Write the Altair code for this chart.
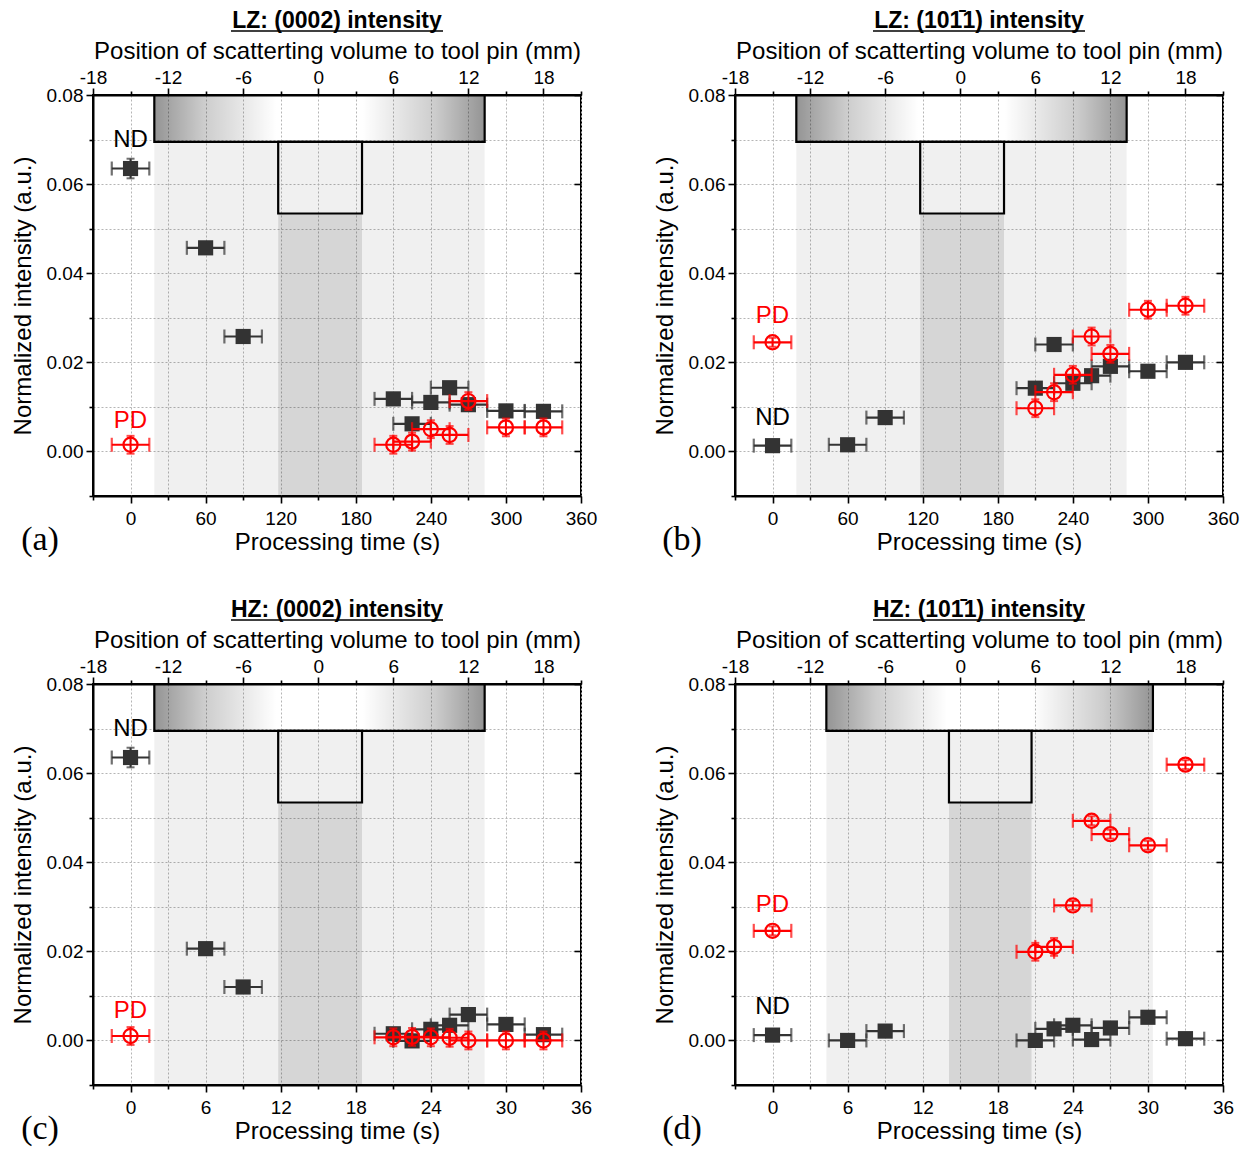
import altair as alt
import pandas as pd

W, H = 488, 401

# ---------------- texts ----------------
panel_titles = ["LZ: (0002) intensity", "LZ: (101\u03041) intensity",
                "HZ: (0002) intensity", "HZ: (101\u03041) intensity"]
panel_letters = ["(a)", "(b)", "(c)", "(d)"]
x_title = "Processing time (s)"
top_title = "Position of scatterting volume to tool pin (mm)"
y_title = "Normalized intensity (a.u.)"

# ---------------- axes ----------------
time_domains = [[-30, 360], [-30, 360], [-3, 36], [-3, 36]]
time_ticks = [list(range(-30, 361, 30)), list(range(-30, 361, 30)),
              list(range(-3, 37, 3)), list(range(-3, 37, 3))]
time_major = [60, 60, 6, 6]
mm_domain = [-18, 21]
mm_ticks = list(range(-18, 22, 3))
y_domain = [-0.01, 0.08]
y_ticks = [-0.01, 0.0, 0.01, 0.02, 0.03, 0.04, 0.05, 0.06, 0.07, 0.08]
y_major = [0.0, 0.02, 0.04, 0.06, 0.08]

# ---------------- data ----------------
nd_t_long = [0, 60, 90, 210, 225, 240, 255, 270, 300, 330]
pd_t_long = [0, 210, 225, 240, 255, 270, 300, 330]
nd_t_short = [0, 6, 9, 21, 22.5, 24, 25.5, 27, 30, 33]
pd_t_short = [0, 21, 22.5, 24, 25.5, 27, 30, 33]
x_err = [15, 15, 1.5, 1.5]

a_nd = [0.0635, 0.0457, 0.0258, 0.0118, 0.0062, 0.0110, 0.0143, 0.0105, 0.0091, 0.0090]
a_nd_err = [0.0022, 0.0008, 0.0008, 0.0008, 0.0008, 0.0008, 0.0008, 0.0008, 0.0008, 0.0008]
a_pd = [0.0015, 0.0015, 0.0022, 0.0050, 0.0037, 0.0113, 0.0054, 0.0054]
a_pd_err = [0.002, 0.002, 0.002, 0.002, 0.002, 0.002, 0.002, 0.002]

b_nd = [0.0013, 0.0015, 0.0076, 0.0142, 0.0240, 0.0153, 0.0170, 0.0191, 0.0180, 0.0200]
b_nd_err = [0.0008, 0.0008, 0.0008, 0.0008, 0.0008, 0.0008, 0.0008, 0.0008, 0.0008, 0.0008]
b_pd = [0.0245, 0.0097, 0.0133, 0.0172, 0.0258, 0.0219, 0.0318, 0.0327]
b_pd_err = [0.001, 0.002, 0.002, 0.002, 0.002, 0.002, 0.002, 0.002]

c_nd = [0.0635, 0.0206, 0.0120, 0.0015, -0.0001, 0.0025, 0.0034, 0.0058, 0.0036, 0.0013]
c_nd_err = [0.0022, 0.0008, 0.0008, 0.0008, 0.0008, 0.0008, 0.0008, 0.0008, 0.0008, 0.0008]
c_pd = [0.0010, 0.0007, 0.0008, 0.0007, 0.0006, 0.0000, 0.0000, 0.0000]
c_pd_err = [0.002, 0.002, 0.002, 0.002, 0.002, 0.002, 0.002, 0.002]

d_nd = [0.0012, 0.0000, 0.0021, 0.0000, 0.0026, 0.0034, 0.0002, 0.0028, 0.0052, 0.0004]
d_nd_err = [0.0008, 0.0008, 0.0008, 0.0008, 0.0008, 0.0008, 0.0008, 0.0008, 0.0008, 0.0008]
d_pd = [0.0246, 0.0199, 0.0210, 0.0303, 0.0493, 0.0463, 0.0438, 0.0619]
d_pd_err = [0.001, 0.002, 0.002, 0.001, 0.001, 0.001, 0.001, 0.001]

nd_values = [a_nd, b_nd, c_nd, d_nd]
nd_errors = [a_nd_err, b_nd_err, c_nd_err, d_nd_err]
pd_values = [a_pd, b_pd, c_pd, d_pd]
pd_errors = [a_pd_err, b_pd_err, c_pd_err, d_pd_err]
nd_times = [nd_t_long, nd_t_long, nd_t_short, nd_t_short]
pd_times = [pd_t_long, pd_t_long, pd_t_short, pd_t_short]

# tool outline (processing time) and heights (intensity units)
shoulder_t = [[19, 283], [19, 283], [1.9, 28.3], [4.3, 30.4]]
pin_t = [[118, 185], [118, 185], [11.8, 18.5], [14.1, 20.7]]
shoulder_y = [0.0695, 0.08]
pin_bottom_y = 0.0534

# ND / PD annotation anchors
nd_label = [[0, 0.0700], [0, 0.0074], [0, 0.0700], [0, 0.0074]]
pd_label = [[0, 0.0068], [0, 0.0303], [0, 0.0067], [0, 0.0303]]

RED = "#ff0000"
DARK = "#333333"
FONT = "Liberation Sans"

shoulder_gradient = alt.Gradient(
    gradient="linear",
    stops=[
        alt.GradientStop(color="rgba(0,0,0,0.42)", offset=0),
        alt.GradientStop(color="rgba(0,0,0,0.20)", offset=0.15),
        alt.GradientStop(color="rgba(0,0,0,0.0)", offset=0.37),
        alt.GradientStop(color="rgba(0,0,0,0.0)", offset=0.63),
        alt.GradientStop(color="rgba(0,0,0,0.20)", offset=0.85),
        alt.GradientStop(color="rgba(0,0,0,0.42)", offset=1),
    ],
    x1=0, x2=1, y1=0, y2=0,
)


def panel(i):
    major = time_major[i]
    xsc = alt.Scale(domain=time_domains[i], nice=False, zero=False)
    ysc = alt.Scale(domain=y_domain, nice=False, zero=False)
    xaxis = alt.Axis(
        orient="bottom", values=time_ticks[i], grid=True, labelFlush=False,
        labelExpr=f"datum.value % {major} == 0 ? '' + datum.value : ''",
        tickSize={"condition": {"test": f"datum.value % {major} == 0", "value": 7}, "value": 4},
        labelPadding=6, titlePadding=2,
    )
    yaxis = alt.Axis(
        orient="left", values=y_ticks, grid=True, labelFlush=False,
        labelExpr="abs(round(datum.value*100)) % 2 == 0 ? format(datum.value, '.2f') : ''",
        tickSize={"condition": {"test": "abs(round(datum.value*100)) % 2 == 0", "value": 7}, "value": 4},
        labelPadding=3, titlePadding=11,
    )

    def X(f):
        return alt.X(f, type="quantitative", scale=xsc, axis=xaxis, title=x_title)

    def Y(f):
        return alt.Y(f, type="quantitative", scale=ysc, axis=yaxis, title=y_title)

    tool = pd.DataFrame({
        "s0": [shoulder_t[i][0]], "s1": [shoulder_t[i][1]],
        "p0": [pin_t[i][0]], "p1": [pin_t[i][1]],
        "ybot": [y_domain[0]], "ysh": [shoulder_y[0]], "ytop": [shoulder_y[1]],
        "ypin": [pin_bottom_y],
    })
    xe = x_err[i]
    nd = pd.DataFrame({"t": nd_times[i], "y": nd_values[i], "e": nd_errors[i]})
    pdd = pd.DataFrame({"t": pd_times[i], "y": pd_values[i], "e": pd_errors[i]})
    for df in (nd, pdd):
        df["lo"] = df["t"] - xe
        df["hi"] = df["t"] + xe
        df["ylo"] = df["y"] - df["e"]
        df["yhi"] = df["y"] + df["e"]

    light = alt.Chart(tool).mark_rect(fill="black", fillOpacity=0.06).encode(
        x=X("s0"), x2="s1", y=Y("ybot"), y2="ysh")
    dark = alt.Chart(tool).mark_rect(fill="black", fillOpacity=0.105).encode(
        x=X("p0"), x2="p1", y=Y("ybot"), y2="ypin")
    shoulder = alt.Chart(tool).mark_rect(fill=shoulder_gradient, stroke="black", strokeWidth=2.2).encode(
        x=X("s0"), x2="s1", y=Y("ysh"), y2="ytop")
    pin = alt.Chart(tool).mark_rect(fill="white", fillOpacity=0, stroke="black", strokeWidth=2.2).encode(
        x=X("p0"), x2="p1", y=Y("ypin"), y2="ysh")

    def hbar(df, color):
        return alt.Chart(df).mark_errorbar(ticks=True, size=14, thickness=2.2, color=color).encode(
            x=X("lo"), x2="hi", y=Y("y"))

    def vbar(df, color):
        return alt.Chart(df).mark_errorbar(ticks=True, size=8, thickness=2, color=color).encode(
            x=X("t"), y=Y("ylo"), y2="yhi")

    nd_pts = alt.Chart(nd).mark_point(shape="square", filled=True, size=230, color=DARK, opacity=1).encode(
        x=X("t"), y=Y("y"))
    pd_pts = alt.Chart(pdd).mark_point(shape="circle", filled=False, size=200, color=RED,
                                        strokeWidth=2.2, opacity=1).encode(x=X("t"), y=Y("y"))

    lab = pd.DataFrame({"t": [nd_label[i][0], pd_label[i][0]], "y": [nd_label[i][1], pd_label[i][1]],
                        "txt": ["ND", "PD"], "col": ["black", RED]})
    labels = alt.Chart(lab).mark_text(font=FONT, fontSize=24, baseline="middle", align="center").encode(
        x=X("t"), y=Y("y"), text="txt:N", color=alt.Color("col:N", scale=None))

    one = pd.DataFrame({"k": [0]})
    title = alt.Chart(one).mark_text(text=panel_titles[i], font=FONT, fontSize=23, fontWeight="bold",
                                     align="center", baseline="alphabetic", color="black").encode(
        x=alt.value(W / 2), y=alt.value(-67))
    underline = alt.Chart(one).mark_rule(color="black", strokeWidth=1.6).encode(
        x=alt.value(W / 2 - 106), x2=alt.value(W / 2 + 106), y=alt.value(-64))
    letter = alt.Chart(one).mark_text(text=panel_letters[i], font="Liberation Serif", fontSize=34,
                                      align="center", baseline="middle", color="black").encode(
        x=alt.value(-53), y=alt.value(H + 44))

    inner = alt.layer(light, dark, shoulder, pin,
                      hbar(nd, DARK), vbar(nd, DARK), nd_pts,
                      hbar(pdd, RED), vbar(pdd, RED), pd_pts,
                      labels, title, underline, letter)

    top_axis = alt.Chart(pd.DataFrame({"mm": mm_domain})).mark_point(opacity=0).encode(
        x=alt.X("mm:Q", scale=alt.Scale(domain=mm_domain, nice=False, zero=False),
                axis=alt.Axis(orient="top", values=mm_ticks, grid=False, labelFlush=False,
                              labelExpr="datum.value % 6 == 0 ? '' + datum.value : ''",
                              tickSize={"condition": {"test": "datum.value % 6 == 0", "value": 7}, "value": 4},
                              labelPadding=1, titlePadding=5),
                title=top_title))
    right_axis = alt.Chart(pd.DataFrame({"v": y_domain})).mark_point(opacity=0).encode(
        y=alt.Y("v:Q", scale=alt.Scale(domain=y_domain, nice=False, zero=False),
                axis=alt.Axis(orient="right", values=y_major, grid=False, labels=False,
                              tickSize=7, offset=-7, domain=False),
                title=None))

    return alt.layer(inner, top_axis, right_axis).resolve_scale(
        x="independent", y="independent").properties(width=W, height=H)


chart = alt.concat(panel(0), panel(1), panel(2), panel(3), columns=2,
                   spacing={"row": 188, "column": 154}, bounds="flush").properties(
    padding={"left": 10, "top": 9, "right": 5, "bottom": 2}
).configure(font=FONT).configure_view(
    stroke="black", strokeWidth=2
).configure_axis(
    labelFont=FONT, titleFont=FONT, labelFontSize=19, titleFontSize=24,
    titleFontWeight="normal", labelColor="black", titleColor="black",
    tickColor="black", tickWidth=1.6, domainColor="black", domainWidth=2,
    gridColor="#b5b5b5", gridDash=[2, 2], gridWidth=1,
)

chart.save("out.html", embed_options={"renderer": "svg", "actions": False})
